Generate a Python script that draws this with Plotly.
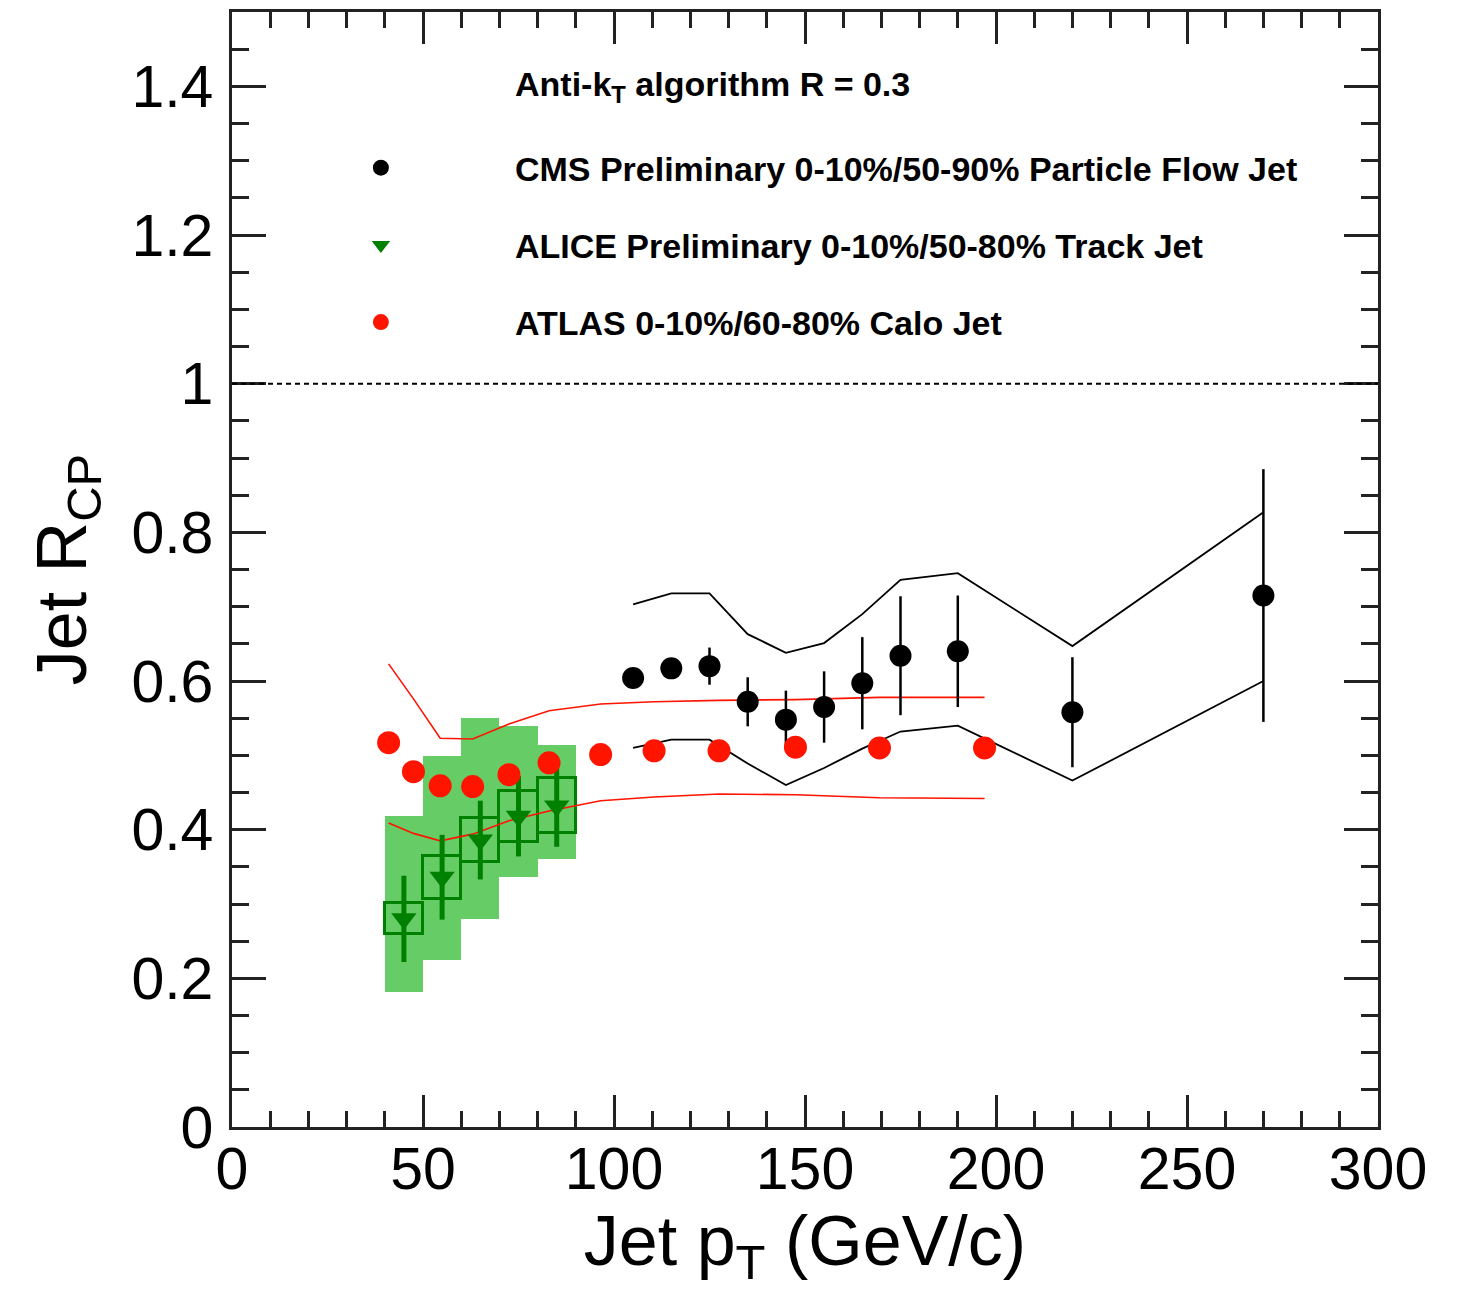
import plotly.graph_objects as go

# ---------------- data ----------------
# CMS Preliminary 0-10%/50-90% Particle Flow Jet
cms_x = [105, 115, 125, 135, 145, 155, 165, 175, 190, 220, 270]
cms_y = [0.604, 0.617, 0.620, 0.572, 0.548, 0.565, 0.597, 0.634, 0.640, 0.558, 0.715]
cms_err = [0.008, 0.010, 0.025, 0.033, 0.039, 0.048, 0.062, 0.080, 0.075, 0.074, 0.170]
cms_sys_hi = [0.703, 0.718, 0.718, 0.663, 0.638, 0.651, 0.690, 0.736, 0.745, 0.647, 0.827]
cms_sys_lo = [0.510, 0.521, 0.521, 0.489, 0.460, 0.483, 0.509, 0.532, 0.540, 0.466, 0.600]

# ALICE Preliminary 0-10%/50-80% Track Jet
alice_x = [45, 55, 65, 75, 85]
alice_y = [0.280, 0.336, 0.386, 0.418, 0.432]
alice_err = [0.058, 0.057, 0.053, 0.054, 0.055]
alice_box_lo = [0.259, 0.307, 0.356, 0.383, 0.395]
alice_box_hi = [0.302, 0.365, 0.416, 0.452, 0.470]
alice_band_lo = [0.181, 0.224, 0.280, 0.337, 0.361]
alice_band_hi = [0.419, 0.499, 0.550, 0.540, 0.514]
alice_binw = [10, 10, 10, 10, 10]

# ATLAS 0-10%/60-80% Calo Jet
atlas_x = [41, 47.5, 54.5, 63, 72.5, 83, 96.5, 110.5, 127.5, 147.5, 169.5, 197]
atlas_y = [0.517, 0.478, 0.459, 0.458, 0.474, 0.490, 0.501, 0.506, 0.506, 0.511, 0.510, 0.510]
atlas_sys_hi = [0.623, 0.576, 0.523, 0.522, 0.542, 0.560, 0.569, 0.572, 0.574, 0.575, 0.578, 0.578]
atlas_sys_lo = [0.409, 0.395, 0.385, 0.394, 0.412, 0.425, 0.439, 0.444, 0.448, 0.447, 0.443, 0.442]

x_ticks = [0, 50, 100, 150, 200, 250, 300]
y_ticks = [0, 0.2, 0.4, 0.6, 0.8, 1.0, 1.2, 1.4]
y_tick_text = ["0", "0.2", "0.4", "0.6", "0.8", "1", "1.2", "1.4"]

FONT = "Liberation Sans, Arial, Helvetica, sans-serif"
GREEN_FILL = "rgb(102,204,102)"
DARK_GREEN = "rgb(0,128,0)"
RED = "rgb(255,20,0)"

fig = go.Figure()

# ALICE shaded band
fig.add_trace(go.Bar(
    x=alice_x, y=[h - l for h, l in zip(alice_band_hi, alice_band_lo)], base=alice_band_lo,
    width=alice_binw, marker=dict(color=GREEN_FILL, line=dict(width=0)),
    showlegend=False, hoverinfo="skip"))
# ALICE open systematic boxes
fig.add_trace(go.Bar(
    x=alice_x, y=[h - l for h, l in zip(alice_box_hi, alice_box_lo)], base=alice_box_lo,
    width=alice_binw, marker=dict(color="rgba(0,0,0,0)", line=dict(width=3, color=DARK_GREEN)),
    showlegend=False, hoverinfo="skip"))

# ATLAS systematic lines
for arr in (atlas_sys_hi, atlas_sys_lo):
    fig.add_trace(go.Scatter(x=atlas_x, y=arr, mode="lines",
                             line=dict(color=RED, width=1.6), showlegend=False, hoverinfo="skip"))
# CMS systematic lines
for arr in (cms_sys_hi, cms_sys_lo):
    fig.add_trace(go.Scatter(x=cms_x, y=arr, mode="lines",
                             line=dict(color="black", width=1.8), showlegend=False, hoverinfo="skip"))

# data points
fig.add_trace(go.Scatter(
    x=cms_x, y=cms_y, mode="markers", name="<b>CMS Preliminary 0-10%/50-90% Particle Flow Jet</b>",
    marker=dict(symbol="circle", size=22, color="black"),
    error_y=dict(type="data", array=cms_err, color="black", thickness=2.5, width=0),
    legendgroup="cms"))
fig.add_trace(go.Scatter(
    x=alice_x, y=alice_y, mode="markers", name="<b>ALICE Preliminary 0-10%/50-80% Track Jet</b>",
    marker=dict(symbol="triangle-down", size=22, color=DARK_GREEN),
    error_y=dict(type="data", array=alice_err, color=DARK_GREEN, thickness=5, width=0),
    legendgroup="alice"))
fig.add_trace(go.Scatter(
    x=atlas_x, y=atlas_y, mode="markers", name="<b>ATLAS 0-10%/60-80% Calo Jet</b>",
    marker=dict(symbol="circle", size=23, color=RED),
    legendgroup="atlas"))

fig.add_shape(type="line", xref="paper", yref="y", x0=0, x1=1, y0=1, y1=1,
              line=dict(color="black", width=2, dash="5px,4px"), layer="above")

fig.add_annotation(text="<b>Anti-k<sub>T</sub> algorithm R = 0.3</b>", xref="paper", yref="paper",
                   x=0.245, y=0.933, xanchor="left", yanchor="middle", showarrow=False,
                   font=dict(family=FONT, size=34, color="black"))

axis_common = dict(
    showgrid=False, zeroline=False, showline=True, linecolor="#222", linewidth=2.5,
    mirror="ticks", ticks="inside", tickcolor="#222", tickwidth=2.5,
    tickfont=dict(family=FONT, size=59, color="black"),
)

fig.update_xaxes(range=[0, 300], tickvals=x_ticks, ticklen=32,
                 minor=dict(dtick=10, ticks="inside", ticklen=16, tickcolor="#222", tickwidth=2.5),
                 title=dict(text="Jet p<sub>T</sub> (GeV/c)", font=dict(family=FONT, size=70, color="black"),
                            standoff=7),
                 ticklabelstandoff=-12,
                 **axis_common)
fig.update_yaxes(range=[0, 1.5], tickvals=y_ticks, ticktext=y_tick_text, ticklen=34,
                 minor=dict(dtick=0.05, ticks="inside", ticklen=17, tickcolor="#222", tickwidth=2.5),
                 title=dict(text="Jet R<sub>CP</sub>", font=dict(family=FONT, size=70, color="black"),
                            standoff=22),
                 ticklabelstandoff=4,
                 **axis_common)

fig.update_layout(
    width=1458, height=1291,
    margin=dict(l=232, r=80, t=12, b=164, autoexpand=False),
    paper_bgcolor="white", plot_bgcolor="white",
    barmode="overlay", bargap=0,
    showlegend=True,
    legend=dict(x=0.013, y=0.886, xanchor="left", yanchor="top",
                font=dict(family=FONT, size=34, color="black"),
                bgcolor="rgba(0,0,0,0)", itemwidth=258, tracegroupgap=30,
                traceorder="grouped", itemclick=False),
    font=dict(family=FONT),
)

fig.write_html("out.html")
